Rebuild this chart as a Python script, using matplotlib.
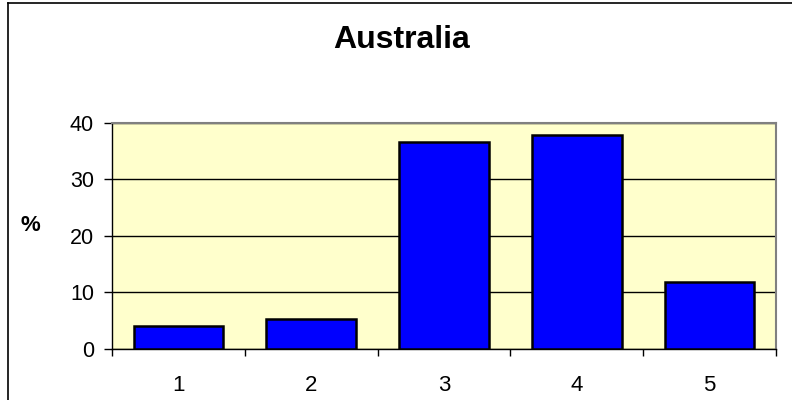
import matplotlib
matplotlib.use('Agg')
import matplotlib.pyplot as plt
from matplotlib.lines import Line2D

# chart values
categories = ['1', '2', '3', '4', '5']
values = [4.0, 5.2, 36.5, 37.8, 11.8]
yticks = [0, 10, 20, 30, 40]

plt.rcParams['font.family'] = ['Liberation Sans', 'DejaVu Sans']

fig = plt.figure(figsize=(7.92, 4.0), dpi=100)
ax = fig.add_axes([112 / 792, 1 - 348.8 / 400, (776 - 112) / 792, (348.8 - 122.7) / 400])
ax.set_facecolor('#FFFFCC')

x = list(range(1, len(categories) + 1))
ax.bar(x, values, width=0.675, color='#0000FF', edgecolor='black', linewidth=1.8, zorder=3)

ax.set_xlim(0.5, len(categories) + 0.5)
ax.set_ylim(0, 40)
ax.set_yticks(yticks)
ax.yaxis.grid(True, color='black', linewidth=1, zorder=1)

# labels at category centres, tick marks at category boundaries
ax.set_xticks(x)
ax.set_xticklabels(categories)
ax.set_xticks([i + 0.5 for i in range(len(categories) + 1)], minor=True)
ax.tick_params(axis='x', which='major', length=0, pad=19, labelsize=16)
ax.tick_params(axis='x', which='minor', length=5, width=1, direction='out', color='black')
ax.tick_params(axis='y', length=6, width=1, direction='out', pad=7, labelsize=15.5)

for side in ['top', 'right']:
    ax.spines[side].set_color('#808080')
    ax.spines[side].set_linewidth(1.5)
for side in ['left', 'bottom']:
    ax.spines[side].set_color('black')
    ax.spines[side].set_linewidth(1)

ax.set_ylabel('%', rotation=0, fontsize=16, fontweight='bold', labelpad=0)
ax.yaxis.set_label_coords(-0.123, 0.5)

fig.text(402 / 792, 1 - 40 / 400, 'Australia', ha='center', va='center',
         fontsize=23, fontweight='bold')

# outer chart border (left and top visible)
fig.add_artist(Line2D([7.5 / 792, 7.5 / 792], [0, 1 - 3 / 400], color='black', linewidth=1.2,
                      transform=fig.transFigure))
fig.add_artist(Line2D([7.5 / 792, 1], [1 - 3 / 400, 1 - 3 / 400], color='black', linewidth=1.2,
                      transform=fig.transFigure))

fig.savefig('out.png', dpi=100)
